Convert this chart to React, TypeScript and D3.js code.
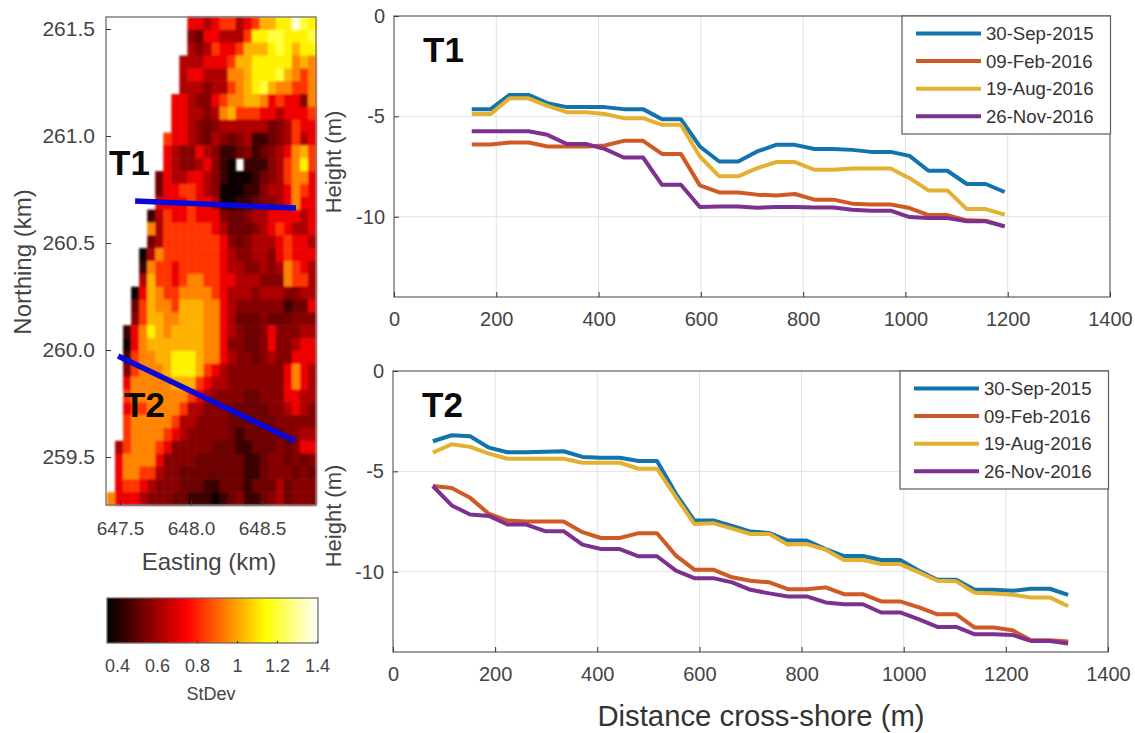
import React, { useEffect, useRef } from 'react';
import * as d3 from 'd3';

// map cells, one string per row from the north, right aligned, '.' = no data
// each character is an index into stdevLevels
const stdevRows = [
  '5545664568899ba9',
  '3255444699aa999a',
  '43465568889a9899',
  '44455568899999787',
  '455444778999a8767',
  '4443446789a877667',
  '554335677887565537',
  '554434786665545556',
  '554323444444234655',
  '6554324323411234645',
  '5433543112312345786',
  '543345310.111346796',
  '25445543100012346775',
  '25566543000113445765',
  '55556554001123345755',
  '146556555322344555545',
  '746666665422234565445',
  '246666666532344456554',
  '0476666666543344356555',
  '1766566666544334347654',
  '4866567766554443337664',
  '05876677776544434443344',
  '26877688877543333331225',
  '36887788877542223222333',
  '157987888877543223533344',
  '057888888877533223533455',
  '167788999877543323433555',
  '367778999865433333335754',
  '577777888654433333335754',
  '677777776543333223335544',
  '566777764433322222334543',
  '677777644333322222233333',
  '677776543333321222223344',
  '4677765333332221122232355',
  '5777753333222222112332323',
  '5776643322222222112333232',
  '5665433322211222122242333',
  '75554333221110123112342333',
];
const stdevLevels = [0.37, 0.44, 0.52, 0.56, 0.62, 0.72, 0.83, 0.95, 1.02, 1.12, 1.2, 1.36];
const stdevTicks = [0.4, 0.6, 0.8, 1, 1.2, 1.4];

const eastingTicks = [647.5, 648.0, 648.5];
const northingTicks = [259.5, 260.0, 260.5, 261.0, 261.5];

// transect ends, [easting, northing] in km
const transectT1 = [[647.606, 260.696], [648.739, 260.664]];
const transectT2 = [[647.486, 259.972], [648.732, 259.575]];

const surveyDates = ['30-Sep-2015', '09-Feb-2016', '19-Aug-2016', '26-Nov-2016'];
const surveyColors = ['#1273ad', '#d05a24', '#e4b02f', '#7d308f'];

const distanceTicks = [0, 200, 400, 600, 800, 1000, 1200, 1400];
const heightTicks = [0, -5, -10];

const t1Distance = [152, 189, 226, 263, 300, 338, 375, 412, 449, 487, 524, 561, 598, 636, 673, 710, 747, 784, 822, 859, 896, 933, 971, 1008, 1045, 1082, 1120, 1157, 1194];
const t1Sep2015 = [-4.64, -4.64, -3.93, -3.93, -4.34, -4.54, -4.54, -4.54, -4.64, -4.64, -5.14, -5.14, -6.5, -7.25, -7.25, -6.75, -6.42, -6.42, -6.63, -6.63, -6.67, -6.77, -6.77, -6.97, -7.71, -7.71, -8.37, -8.37, -8.77];
const t1Feb2016 = [-6.4, -6.4, -6.3, -6.3, -6.5, -6.5, -6.5, -6.45, -6.22, -6.22, -6.87, -6.87, -8.44, -8.79, -8.79, -8.9, -8.94, -8.87, -9.15, -9.15, -9.35, -9.39, -9.39, -9.57, -9.92, -9.92, -10.18, -10.2, -10.48];
const t1Aug2016 = [-4.88, -4.88, -4.1, -4.1, -4.48, -4.79, -4.79, -4.88, -5.09, -5.09, -5.42, -5.42, -7.0, -7.99, -7.99, -7.58, -7.28, -7.28, -7.66, -7.66, -7.6, -7.6, -7.6, -8.08, -8.69, -8.69, -9.62, -9.62, -9.9];
const t1Nov2016 = [-5.74, -5.74, -5.74, -5.74, -5.92, -6.38, -6.38, -6.62, -7.05, -7.05, -8.41, -8.41, -9.52, -9.49, -9.49, -9.55, -9.52, -9.52, -9.54, -9.54, -9.65, -9.7, -9.7, -10.02, -10.07, -10.07, -10.23, -10.23, -10.48];

const t2Distance = [78, 115, 151, 188, 224, 261, 298, 334, 371, 407, 444, 481, 517, 554, 590, 627, 664, 700, 737, 773, 810, 847, 883, 920, 956, 993, 1030, 1066, 1103, 1139, 1176, 1213, 1249, 1286, 1322];
const t2Sep2015 = [-3.5, -3.2, -3.25, -3.82, -4.05, -4.05, -4.02, -4.0, -4.28, -4.32, -4.32, -4.48, -4.48, -6.12, -7.45, -7.45, -7.72, -8.0, -8.07, -8.45, -8.45, -8.87, -9.22, -9.22, -9.42, -9.42, -9.95, -10.4, -10.4, -10.9, -10.9, -10.95, -10.85, -10.85, -11.15];
const t2Feb2016 = [-5.73, -5.83, -6.32, -7.12, -7.45, -7.5, -7.5, -7.5, -8.03, -8.32, -8.32, -8.08, -8.08, -9.2, -9.9, -9.9, -10.28, -10.45, -10.53, -10.87, -10.87, -10.78, -11.12, -11.12, -11.48, -11.48, -11.78, -12.12, -12.12, -12.78, -12.78, -12.92, -13.42, -13.42, -13.48];
const t2Aug2016 = [-4.07, -3.65, -3.78, -4.12, -4.37, -4.37, -4.37, -4.37, -4.57, -4.57, -4.57, -4.87, -4.87, -6.28, -7.62, -7.58, -7.85, -8.12, -8.12, -8.65, -8.62, -8.9, -9.42, -9.42, -9.62, -9.62, -10.03, -10.45, -10.48, -11.05, -11.08, -11.15, -11.28, -11.28, -11.72];
const t2Nov2016 = [-5.73, -6.7, -7.15, -7.22, -7.65, -7.65, -7.98, -7.98, -8.65, -8.87, -8.87, -9.23, -9.23, -9.95, -10.32, -10.32, -10.53, -10.9, -11.08, -11.23, -11.23, -11.53, -11.62, -11.62, -12.03, -12.03, -12.37, -12.75, -12.75, -13.12, -13.12, -13.15, -13.45, -13.45, -13.58];

const FONT = '"Liberation Sans", Arial, sans-serif';
const TEXT = '#444';
const FRAME = '#6e6e6e';

// MATLAB "hot", stretched over the colour limits of the map
const hot = d3.scaleLinear<string>()
  .domain([0.35, 0.746, 1.14, 1.405])
  .range(['#000000', '#ff0000', '#ffff00', '#ffffff'])
  .clamp(true);

const styleAxis = (g: any, size: number) => {
  g.select('.domain').remove();
  g.selectAll('line').attr('stroke', '#333');
  g.selectAll('text').attr('fill', TEXT).style('font-size', `${size}px`).style('font-family', FONT);
};

const bigLabel = (svg: any, x: number, y: number, text: string) => {
  svg.append('text')
    .attr('x', x).attr('y', y)
    .attr('font-family', FONT).attr('font-size', 35).attr('font-weight', 700)
    .attr('fill', '#0a0a0a')
    .text(text);
};

function drawMap(svg: any) {
  const left = 106, right = 316, top = 17, bottom = 505;
  const x = d3.scaleLinear().domain([647.401, 648.88]).range([left, right]);
  const y = d3.scaleLinear().domain([259.276, 261.556]).range([bottom, top]);

  const colCount = 26;
  const col = d3.scaleBand<number>().domain(d3.range(colCount)).range([107, 316]);
  const row = d3.scaleBand<number>().domain(d3.range(stdevRows.length)).range([top, bottom]);

  const cells = stdevRows.flatMap((r, i) =>
    r.padStart(colCount, '.').split('').map((c, k) => ({ i, k, c }))).filter(d => d.c !== '.');

  svg.append('g')
    .attr('filter', 'url(#soft)')
    .selectAll('rect')
    .data(cells)
    .enter().append('rect')
    .attr('x', (d: any) => col(d.k))
    .attr('y', (d: any) => row(d.i))
    .attr('width', col.bandwidth() + 0.5)
    .attr('height', row.bandwidth() + 0.5)
    .attr('fill', (d: any) => hot(stdevLevels[parseInt(d.c, 12)]));

  svg.append('rect')
    .attr('x', left).attr('y', top).attr('width', right - left).attr('height', bottom - top)
    .attr('fill', 'none').attr('stroke', FRAME).attr('stroke-width', 1.3);

  svg.append('g')
    .attr('transform', `translate(0,${bottom})`)
    .call(d3.axisBottom(x).tickValues(eastingTicks).tickFormat(d3.format('.1f') as any).tickSize(-5).tickPadding(17))
    .call(styleAxis, 19);
  svg.append('g')
    .attr('transform', `translate(${left},0)`)
    .call(d3.axisLeft(y).tickValues(northingTicks).tickFormat(d3.format('.1f') as any).tickSize(-5).tickPadding(11))
    .call(styleAxis, 21);

  const line = d3.line<number[]>().x(d => x(d[0])).y(d => y(d[1]));
  [transectT1, transectT2].forEach(t => {
    svg.append('path')
      .attr('d', line(t))
      .attr('fill', 'none').attr('stroke', '#0808dc').attr('stroke-width', 5.5);
  });

  bigLabel(svg, 109, 175, 'T1');
  bigLabel(svg, 124, 417, 'T2');

  svg.append('text')
    .attr('transform', 'translate(31,262) rotate(-90)')
    .attr('text-anchor', 'middle')
    .attr('font-family', FONT).attr('font-size', 24).attr('fill', TEXT)
    .text('Northing (km)');
  svg.append('text')
    .attr('x', 209).attr('y', 570)
    .attr('text-anchor', 'middle')
    .attr('font-family', FONT).attr('font-size', 24).attr('fill', TEXT)
    .text('Easting (km)');
}

function drawColorbar(svg: any) {
  const top = 598, bottom = 643;
  const x = d3.scaleLinear().domain([0.35, 1.405]).range([107, 318]);

  svg.append('g')
    .selectAll('rect')
    .data(d3.range(107, 318))
    .enter().append('rect')
    .attr('x', (d: number) => d)
    .attr('y', top)
    .attr('width', 1.5)
    .attr('height', bottom - top)
    .attr('fill', (d: number) => hot(x.invert(d)));

  svg.append('rect')
    .attr('x', 107).attr('y', top).attr('width', 211).attr('height', bottom - top)
    .attr('fill', 'none').attr('stroke', FRAME).attr('stroke-width', 1.3);

  svg.append('g')
    .attr('transform', `translate(0,${bottom})`)
    .call(d3.axisBottom(x).tickValues(stdevTicks).tickFormat((d: any) => String(d)).tickSize(-2).tickPadding(16))
    .call(styleAxis, 18);

  svg.append('text')
    .attr('x', 211).attr('y', 700)
    .attr('text-anchor', 'middle')
    .attr('font-family', FONT).attr('font-size', 18).attr('fill', TEXT)
    .text('StDev');
}

function drawProfile(svg: any, p: any) {
  const x = d3.scaleLinear().domain([0, 1400]).range([p.left, p.right]);
  const y = d3.scaleLinear().domain([0, -14]).range([p.top, p.bottom]);

  svg.append('g')
    .selectAll('line.gx')
    .data(distanceTicks.slice(1, -1))
    .enter().append('line')
    .attr('x1', (d: number) => x(d)).attr('x2', (d: number) => x(d))
    .attr('y1', p.top).attr('y2', p.bottom)
    .attr('stroke', '#e2e2e2').attr('stroke-width', 1);
  svg.append('g')
    .selectAll('line.gy')
    .data(heightTicks.slice(1))
    .enter().append('line')
    .attr('x1', p.left).attr('x2', p.right)
    .attr('y1', (d: number) => y(d)).attr('y2', (d: number) => y(d))
    .attr('stroke', '#e2e2e2').attr('stroke-width', 1);

  svg.append('rect')
    .attr('x', p.left).attr('y', p.top).attr('width', p.right - p.left).attr('height', p.bottom - p.top)
    .attr('fill', 'none').attr('stroke', FRAME).attr('stroke-width', 1.3);

  svg.append('g')
    .attr('transform', `translate(0,${p.bottom})`)
    .call(d3.axisBottom(x).tickValues(distanceTicks).tickFormat((d: any) => String(d)).tickSize(-5).tickPadding(15))
    .call(styleAxis, 20);
  svg.append('g')
    .attr('transform', `translate(${p.left},0)`)
    .call(d3.axisLeft(y).tickValues(heightTicks).tickFormat((d: any) => String(d)).tickSize(-5).tickPadding(9))
    .call(styleAxis, 20);

  const line = d3.line<number>()
    .x((_, i) => x(p.distance[i]))
    .y(d => y(d));

  p.series.forEach((s: number[], i: number) => {
    svg.append('path')
      .datum(s)
      .attr('fill', 'none')
      .attr('stroke', surveyColors[i])
      .attr('stroke-width', 4)
      .attr('stroke-linejoin', 'round')
      .attr('d', line);
  });

  // legend
  const lg = svg.append('g');
  lg.append('rect')
    .attr('x', p.legendX).attr('y', p.top).attr('width', p.right - p.legendX + 0.5).attr('height', p.legendH)
    .attr('fill', '#fff').attr('stroke', '#5a5a5a').attr('stroke-width', 1.2);
  surveyDates.forEach((label, i) => {
    const ly = p.top + 17.5 + i * 27.6;
    lg.append('line')
      .attr('x1', p.legendX + 14).attr('x2', p.legendX + 79)
      .attr('y1', ly).attr('y2', ly)
      .attr('stroke', surveyColors[i]).attr('stroke-width', 4);
    lg.append('text')
      .attr('x', p.legendX + 84).attr('y', ly + 6.5)
      .attr('font-family', FONT).attr('font-size', 18.6).attr('fill', '#333')
      .text(label);
  });

  bigLabel(svg, p.left + 29, p.labelY, p.label);

  svg.append('text')
    .attr('transform', `translate(341,${p.axisLabelY}) rotate(-90)`)
    .attr('text-anchor', 'middle')
    .attr('font-family', FONT).attr('font-size', 22).attr('fill', TEXT)
    .text('Height (m)');
}

export default function App() {
  const svgRef = useRef<SVGSVGElement>(null);

  useEffect(() => {
    if (!svgRef.current) return;
    const svg = d3.select(svgRef.current);
    svg.selectAll('*').remove();

    svg.append('defs').append('filter')
      .attr('id', 'soft')
      .append('feGaussianBlur').attr('stdDeviation', 0.9);

    drawMap(svg);
    drawColorbar(svg);

    drawProfile(svg, {
      left: 394, right: 1110, top: 16, bottom: 297,
      legendX: 902, legendH: 118,
      label: 'T1', labelY: 62, axisLabelY: 162,
      distance: t1Distance,
      series: [t1Sep2015, t1Feb2016, t1Aug2016, t1Nov2016],
    });
    drawProfile(svg, {
      left: 393, right: 1108, top: 371, bottom: 652,
      legendX: 900, legendH: 118,
      label: 'T2', labelY: 417, axisLabelY: 516,
      distance: t2Distance,
      series: [t2Sep2015, t2Feb2016, t2Aug2016, t2Nov2016],
    });

    svg.append('text')
      .attr('x', 761).attr('y', 726)
      .attr('text-anchor', 'middle')
      .attr('font-family', FONT).attr('font-size', 29.3).attr('fill', '#333')
      .text('Distance cross-shore (m)');
  }, []);

  return (
    <svg
      ref={svgRef}
      width={1135}
      height={733}
      style={{ position: 'absolute', left: 0, top: 0, background: '#fff' }}
    />
  );
}
